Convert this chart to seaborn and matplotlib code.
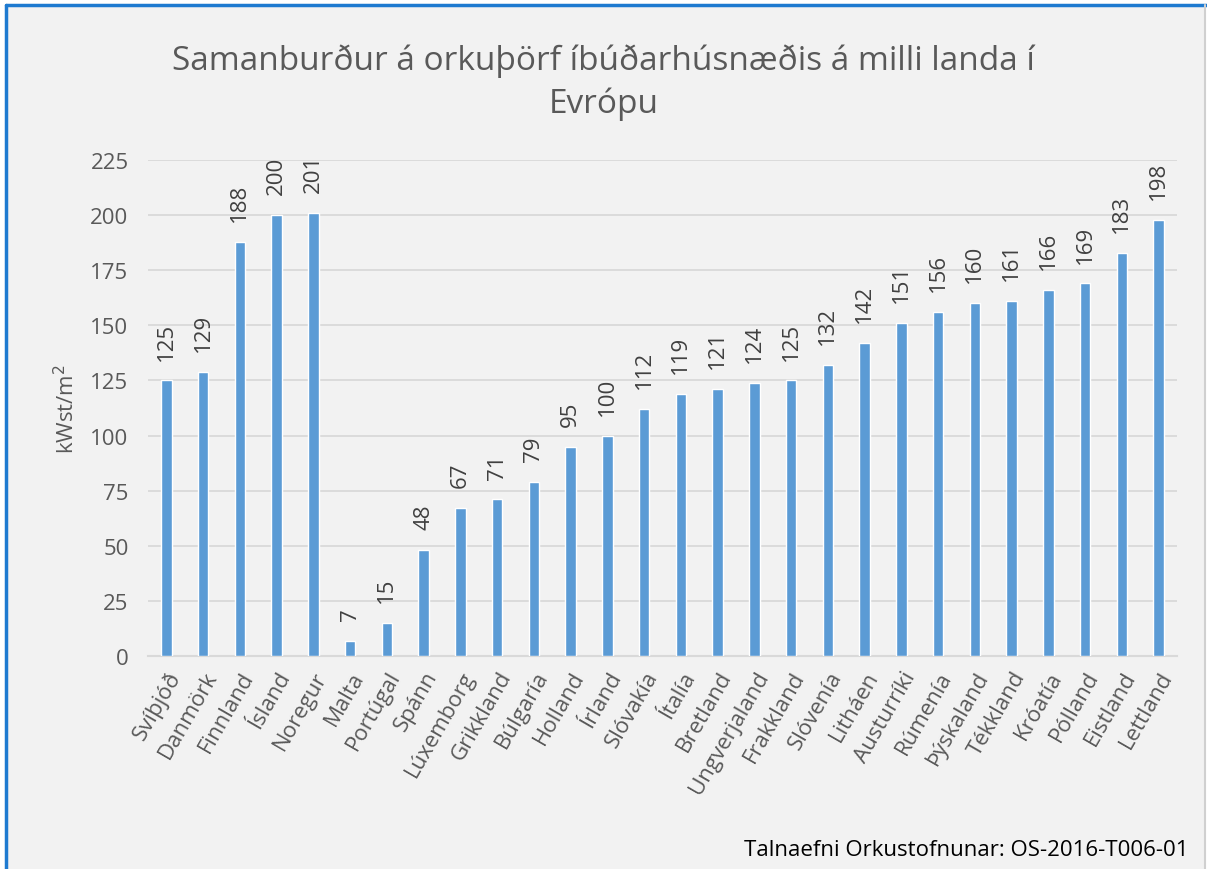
import matplotlib as mpl
import matplotlib.pyplot as plt
from matplotlib.patches import Rectangle
import pandas as pd
import seaborn as sns

lond = ["Svíþjóð", "Danmörk", "Finnland", "Ísland", "Noregur", "Malta",
        "Portúgal", "Spánn", "Lúxemborg", "Grikkland", "Búlgaría", "Holland",
        "Írland", "Slóvakía", "Ítalía", "Bretland", "Ungverjaland", "Frakkland",
        "Slóvenía", "Litháen", "Austurríki", "Rúmenía", "Þýskaland", "Tékkland",
        "Króatía", "Pólland", "Eistland", "Lettland"]
orkuthorf = [125, 129, 188, 200, 201, 7, 15, 48, 67, 71, 79, 95, 100, 112,
             119, 121, 124, 125, 132, 142, 151, 156, 160, 161, 166, 169, 183, 198]
yticks = [0, 25, 50, 75, 100, 125, 150, 175, 200, 225]

sns.set_theme(style="white")
mpl.rcParams["font.family"] = ["Open Sans", "DejaVu Sans"]

BG = "#f2f2f2"
GRID = "#d9d9d9"
BAR = "#5b9bd5"
TXT = "#595959"

fig = plt.figure(figsize=(12.07, 8.7), dpi=100, facecolor="white")
# bakgrunnur + blár rammi efst og vinstra megin
fig.patches.append(Rectangle((6 / 1207, 0), 1 - 8 / 1207, 1 - 6 / 870,
                             transform=fig.transFigure, facecolor=BG,
                             edgecolor="none", zorder=-10))
fig.add_artist(plt.Line2D([6 / 1207, 6 / 1207], [0, 1 - 6 / 870],
                          transform=fig.transFigure, color="#1e7ad0", lw=2.5))
fig.add_artist(plt.Line2D([6 / 1207, 1], [1 - 6 / 870, 1 - 6 / 870],
                          transform=fig.transFigure, color="#1e7ad0", lw=2.5))
fig.add_artist(plt.Line2D([1 - 2 / 1207, 1 - 2 / 1207], [0, 1 - 6 / 870],
                          transform=fig.transFigure, color="#d0d0d0", lw=1.5))

ax = fig.add_axes([148 / 1207, 1 - 657 / 870, (1177 - 148) / 1207, (657 - 161) / 870])
ax.set_facecolor(BG)

df = pd.DataFrame({"land": lond, "kwst": orkuthorf})
sns.barplot(data=df, x="land", y="kwst", color=BAR, saturation=1, width=0.28,
            ax=ax, zorder=3)

ax.set_ylim(0, 225)
ax.set_xlim(-0.5, len(lond) - 0.5)
ax.set_yticks(yticks)
ax.yaxis.grid(True, color=GRID, lw=1.3, zorder=0)
ax.set_axisbelow(True)
for s in ["top", "right", "left"]:
    ax.spines[s].set_visible(False)
ax.spines["bottom"].set_color(GRID)
ax.spines["bottom"].set_linewidth(1.5)
ax.tick_params(axis="both", length=0, colors=TXT, labelsize=16)
ax.tick_params(axis="y", pad=14)
ax.tick_params(axis="x", pad=8)
plt.setp(ax.get_xticklabels(), rotation=60, ha="right", rotation_mode="anchor")

ax.bar_label(ax.containers[0], labels=[str(v) for v in orkuthorf], rotation=90,
             padding=15, fontsize=16, color="#404040")

ax.set_xlabel("")
ax.set_ylabel("kWst/m$^2$", fontsize=16, color=TXT, labelpad=8)

fig.text(0.5, 1 - 61 / 870, "Samanburður á orkuþörf íbúðarhúsnæðis á milli landa í",
         ha="center", va="center", fontsize=24, color=TXT)
fig.text(0.5, 1 - 104 / 870, "Evrópu", ha="center", va="center", fontsize=24, color=TXT)
fig.text(1188 / 1207, 1 - 851 / 870, "Talnaefni Orkustofnunar: OS-2016-T006-01",
         ha="right", va="center", fontsize=16, color="black")

fig.savefig("out.png", dpi=100, facecolor=fig.get_facecolor())
